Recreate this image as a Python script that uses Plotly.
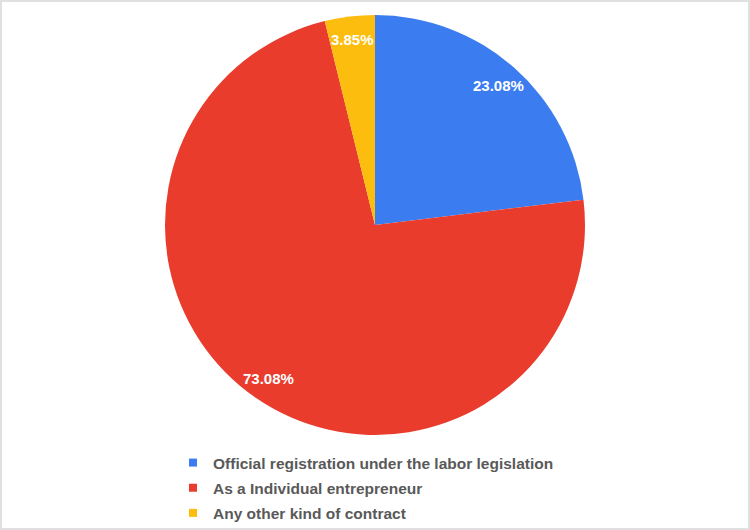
import math
import plotly.graph_objects as go

labels = [
    "Official registration under the labor legislation",
    "As a Individual entrepreneur",
    "Any other kind of contract",
]
counts = [6, 19, 1]
colors = ["#3b7cf0", "#e93c2d", "#fcbd0f"]

W, H = 750, 530
dom_y = [1 - 435 / H, 1 - 15 / H]
radius_px = (dom_y[1] - dom_y[0]) * H / 2

fig = go.Figure()

fig.add_trace(go.Pie(
    labels=labels,
    values=counts,
    sort=False,
    direction="clockwise",
    rotation=0,
    marker=dict(colors=colors, line=dict(width=0)),
    textinfo="none",
    showlegend=False,
    hoverinfo="label+percent",
    domain=dict(x=[0, 1], y=dom_y),
))

# percentage labels near the rim, at each slice's middle angle
total = sum(counts)
cum = 0
cy = (dom_y[0] + dom_y[1]) / 2
for v in counts:
    ang = 2 * math.pi * (cum + v / 2) / total
    cum += v
    r = 0.89 * radius_px
    fig.add_annotation(
        x=0.5 + r * math.sin(ang) / W, y=cy + r * math.cos(ang) / H,
        xref="paper", yref="paper", xanchor="center", yanchor="middle",
        showarrow=False,
        text=f"{100 * v / total:.2f}%",
        font=dict(family="Liberation Sans, Arial", size=15, color="white", weight="bold"),
    )

# legend entries with small square markers
for i, (name, col) in enumerate(zip(labels, colors)):
    fig.add_trace(go.Scatter(
        x=[None], y=[None], mode="markers", name=name,
        marker=dict(symbol="square", size=8, color=col),
        legendgroup=f"g{i}", showlegend=True, hoverinfo="skip",
    ))

fig.update_layout(
    width=W,
    height=H,
    margin=dict(l=0, r=0, t=0, b=0),
    paper_bgcolor="white",
    plot_bgcolor="white",
    xaxis=dict(visible=False),
    yaxis=dict(visible=False),
    legend=dict(
        x=173 / W, xanchor="left",
        y=0, yanchor="bottom",
        tracegroupgap=2,
        itemwidth=30,
        bgcolor="rgba(0,0,0,0)",
        font=dict(family="Liberation Sans, Arial", size=15.5, color="#595959", weight="bold"),
        itemclick=False,
    ),
    shapes=[dict(
        type="rect", xref="paper", yref="paper", x0=0, y0=0, x1=1, y1=1,
        line=dict(color="#e0e0e0", width=4), layer="above",
    )],
)

fig.write_html("out.html", config={"displayModeBar": False},
               post_script="document.body.style.margin='0';")
